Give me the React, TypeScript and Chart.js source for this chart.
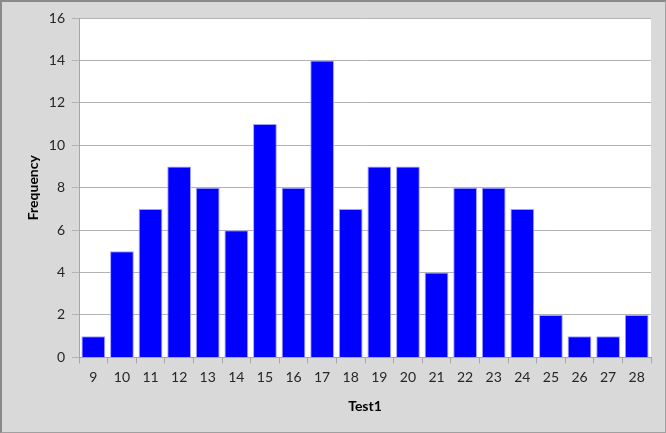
import React, { useEffect, useRef } from "react";
import { Chart, registerables } from "chart.js";

Chart.register(...registerables);

const categories = ["9","10","11","12","13","14","15","16","17","18","19","20","21","22","23","24","25","26","27","28"];
const frequency = [1,5,7,9,8,6,11,8,14,7,9,9,4,8,8,7,2,1,1,2];
const yMin = 0;
const yMax = 16;
const yStep = 2;
const xTitle = "Test1";
const yTitle = "Frequency";

export default function App() {
  const ref = useRef<HTMLCanvasElement | null>(null);
  useEffect(() => {
    if (!ref.current) return;
    const font = "Lato, 'Open Sans', sans-serif";
    const chart = new Chart(ref.current, {
      type: "bar",
      data: {
        labels: categories,
        datasets: [
          {
            data: frequency,
            backgroundColor: "#0000ff",
            borderColor: "#a0a0ff",
            borderWidth: 1,
            barPercentage: 0.83,
            categoryPercentage: 1,
          },
        ],
      },
      plugins: [
        {
          id: "bg",
          beforeDraw(c: any) {
            const { ctx, chartArea } = c;
            ctx.save();
            ctx.fillStyle = "#ffffff";
            ctx.fillRect(chartArea.left, chartArea.top, chartArea.right - chartArea.left, chartArea.bottom - chartArea.top);
            ctx.restore();
          },
        },
      ],
      options: {
        animation: false,
        responsive: false,
        maintainAspectRatio: false,
        layout: { padding: { top: 16, right: 14, bottom: 13, left: 19 } },
        plugins: { legend: { display: false }, tooltip: { enabled: false } },
        scales: {
          x: {
            grid: {
              offset: true,
              drawOnChartArea: false,
              drawTicks: true,
              tickLength: 6,
              color: "#a6a6a6",
            },
            border: { color: "#a6a6a6", width: 1 },
            ticks: { color: "#262626", font: { family: font, size: 14 }, padding: 6, maxRotation: 0, autoSkip: false },
            title: { display: true, text: xTitle, color: "#000000", font: { family: font, size: 14, weight: "bold" }, padding: { top: 6 } },
          },
          y: {
            min: yMin,
            max: yMax,
            grid: { color: "#b3b3b3", tickLength: 7, drawTicks: true },
            border: { color: "#a6a6a6", width: 1 },
            ticks: { stepSize: yStep, color: "#262626", font: { family: font, size: 14 }, padding: 7 },
            title: { display: true, text: yTitle, color: "#000000", font: { family: font, size: 14, weight: "bold" }, padding: { bottom: 0 } },
          },
        },
      },
    } as any);
    return () => chart.destroy();
  }, []);
  return (
    <div
      style={{
        position: "fixed",
        left: 0,
        top: 0,
        width: 666,
        height: 433,
        boxSizing: "border-box",
        background: "#d9d9d9",
        borderTop: "2px solid #8a8a8a",
        borderLeft: "2px solid #8a8a8a",
        borderRight: "1px solid #a0a0a0",
        borderBottom: "1px solid #a0a0a0",
      }}
    >
      <canvas ref={ref} width={663} height={430} style={{ display: "block" }} />
    </div>
  );
}
